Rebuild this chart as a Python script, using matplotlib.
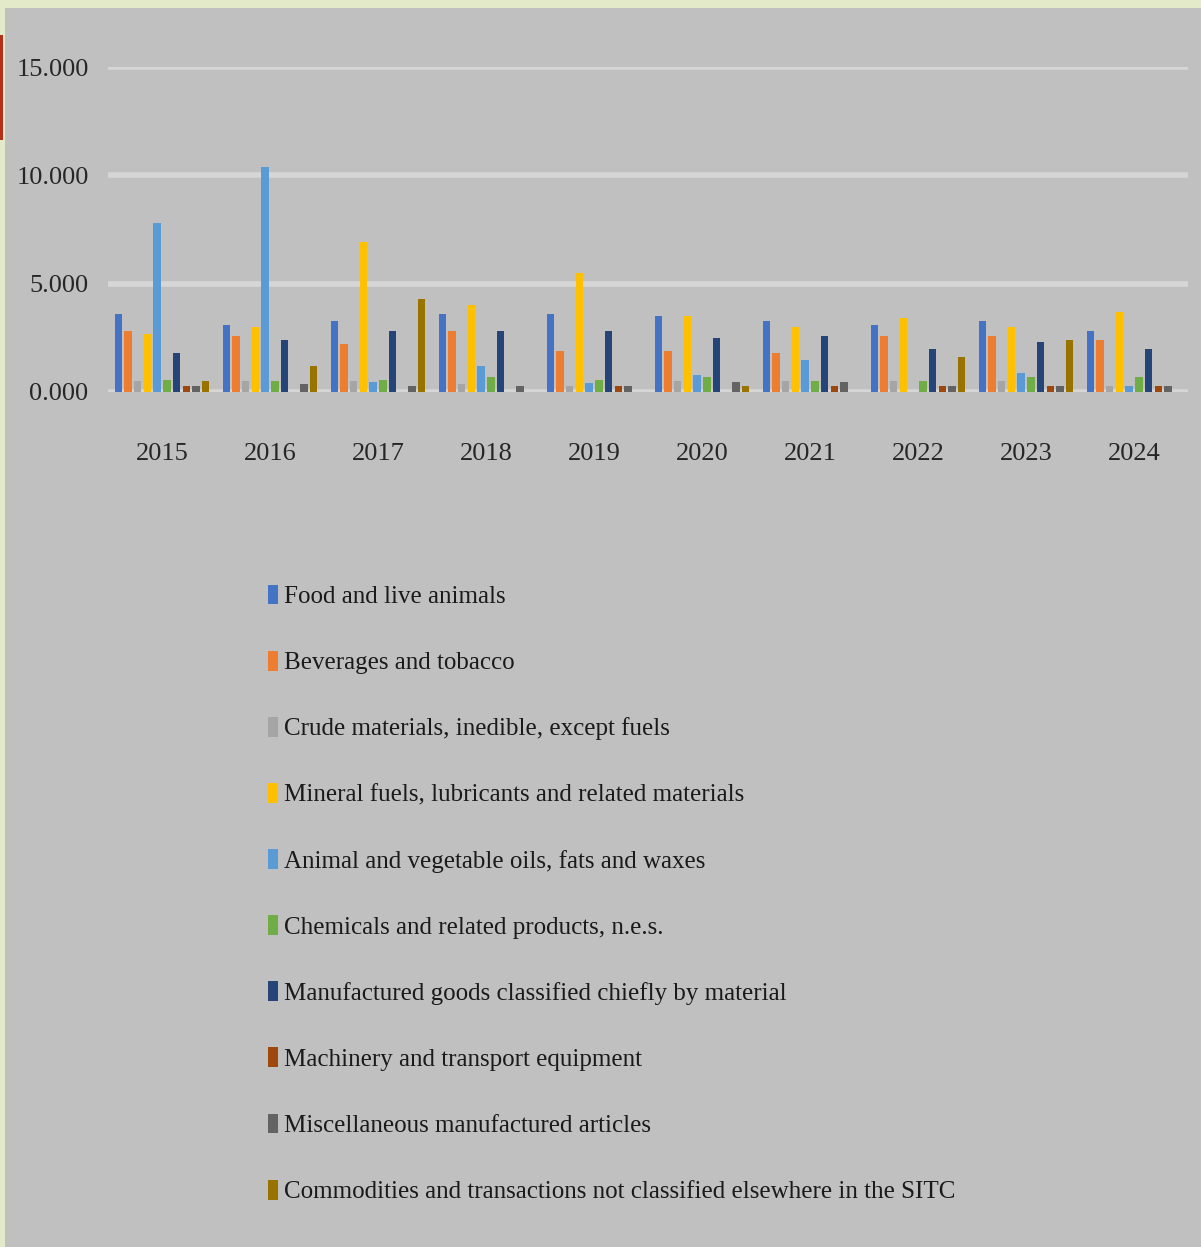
import matplotlib.pyplot as plt
import matplotlib.patches as mpatches
import numpy as np

years = ["2015", "2016", "2017", "2018", "2019", "2020", "2021", "2022", "2023", "2024"]

series_names = [
    "Food and live animals",
    "Beverages and tobacco",
    "Crude materials, inedible, except fuels",
    "Mineral fuels, lubricants and related materials",
    "Animal and vegetable oils, fats and waxes",
    "Chemicals and related products, n.e.s.",
    "Manufactured goods classified chiefly by material",
    "Machinery and transport equipment",
    "Miscellaneous manufactured articles",
    "Commodities and transactions not classified elsewhere in the SITC",
]

food = [3.6, 3.1, 3.3, 3.6, 3.6, 3.5, 3.3, 3.1, 3.3, 2.8]
beverages = [2.8, 2.6, 2.2, 2.8, 1.9, 1.9, 1.8, 2.6, 2.6, 2.4]
crude = [0.5, 0.5, 0.5, 0.35, 0.3, 0.5, 0.5, 0.5, 0.5, 0.3]
mineral = [2.7, 3.0, 6.9, 4.0, 5.5, 3.5, 3.0, 3.4, 3.0, 3.7]
oils = [7.8, 10.4, 0.45, 1.2, 0.4, 0.8, 1.5, 0.0, 0.9, 0.3]
chemicals = [0.55, 0.5, 0.55, 0.7, 0.55, 0.7, 0.5, 0.5, 0.7, 0.7]
manufactured = [1.8, 2.4, 2.8, 2.8, 2.8, 2.5, 2.6, 2.0, 2.3, 2.0]
machinery = [0.3, 0.0, 0.0, 0.0, 0.3, 0.0, 0.3, 0.3, 0.3, 0.3]
misc = [0.3, 0.35, 0.3, 0.3, 0.3, 0.45, 0.45, 0.3, 0.3, 0.3]
commodities = [0.5, 1.2, 4.3, 0.0, 0.0, 0.3, 0.0, 1.6, 2.4, 0.0]

colors = ["#4472C4", "#ED7D31", "#A5A5A5", "#FFC000", "#5B9BD5",
          "#70AD47", "#264478", "#9E480E", "#636363", "#997300"]

all_series = [food, beverages, crude, mineral, oils, chemicals,
              manufactured, machinery, misc, commodities]

W, H = 1201, 1247
fig = plt.figure(figsize=(W / 100, H / 100), dpi=100)
fig.patch.set_facecolor("#E3EAC9")
# grey slide panel
fig.patches.append(mpatches.Rectangle((5 / W, 0), 1, 1 - 8 / H, transform=fig.transFigure,
                                      facecolor="#C0C0C0", edgecolor="none", zorder=-10))
# small red accent on the left edge
fig.patches.append(mpatches.Rectangle((0, 1 - 140 / H), 3 / W, 105 / H, transform=fig.transFigure,
                                      facecolor="#B5301A", edgecolor="none", zorder=-9))

ax = fig.add_axes([108 / W, 1 - 392 / H, 1080 / W, 325 / H])
ax.set_facecolor("none")
ax.set_zorder(2)

x = np.arange(len(years))
slot = 0.09
bw = 0.068
for i, (name, vals, c) in enumerate(zip(series_names, all_series, colors)):
    ax.bar(x + (i - 4.5) * slot, vals, width=bw, color=c, label=name, zorder=3)

ax.set_xlim(-0.5, 9.5)
ax.set_ylim(0, 15)
ax.set_yticks([0, 5, 10, 15])
ax.set_yticklabels(["{:.3f}".format(v) for v in [0, 5, 10, 15]])
ax.set_xticks(x)
ax.set_xticklabels(years)
ax.grid(axis="y", color="#D6D6D6", linewidth=4, zorder=1)
ax.set_axisbelow(True)
for s in ax.spines.values():
    s.set_visible(False)
ax.tick_params(axis="both", length=0, labelcolor="#262626")
ax.tick_params(axis="y", pad=14)
ax.tick_params(axis="x", pad=37)
for lab in ax.get_xticklabels() + ax.get_yticklabels():
    lab.set_fontfamily("Liberation Serif")
    lab.set_fontsize(19)

handles, labels = ax.get_legend_handles_labels()
leg = fig.legend(handles, labels, loc="upper left", bbox_to_anchor=(255 / W, 1 - 572 / H),
                 frameon=False, borderpad=0, handlelength=0.4, handleheight=0.85,
                 handletextpad=0.28, labelspacing=1.70,
                 prop={"family": "Liberation Serif", "size": 18})
for t in leg.get_texts():
    t.set_color("#1a1a1a")

fig.savefig("out.png", dpi=100, facecolor=fig.get_facecolor())
